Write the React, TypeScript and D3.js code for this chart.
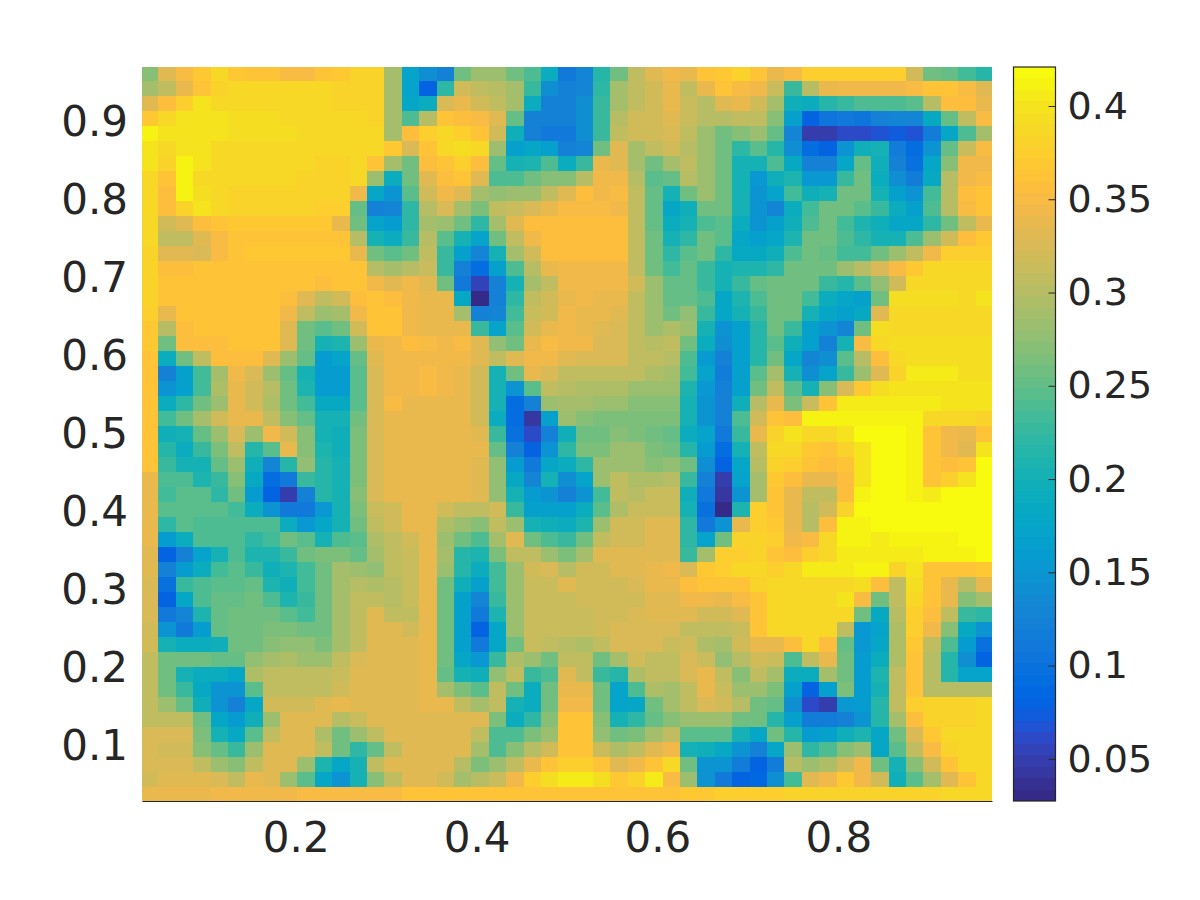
import React, { useEffect, useRef } from "react";
import * as d3 from "d3";

const width = 1200;
const height = 900;
const xTicks = [0.2, 0.4, 0.6, 0.8];
const yTicks = [0.1, 0.2, 0.3, 0.4, 0.5, 0.6, 0.7, 0.8, 0.9];
const barTicks = [0.05, 0.1, 0.15, 0.2, 0.25, 0.3, 0.35, 0.4];
const colorLimits = [0.0274, 0.4209];

// MATLAB parula, 64 levels
const parula = [
  [0.2081,0.1663,0.5292],[0.2116,0.1898,0.5777],[0.2123,0.2138,0.627],[0.2081,0.2386,0.6771],
  [0.1959,0.2645,0.7279],[0.1707,0.2919,0.7792],[0.1253,0.3242,0.8303],[0.0591,0.3598,0.8683],
  [0.0117,0.3875,0.882],[0.006,0.4086,0.8828],[0.0165,0.4266,0.8786],[0.0329,0.443,0.872],
  [0.0498,0.4586,0.8641],[0.0629,0.4737,0.8554],[0.0723,0.4887,0.8467],[0.0779,0.504,0.8384],
  [0.0793,0.52,0.8312],[0.0749,0.5375,0.8263],[0.0641,0.557,0.824],[0.0488,0.5772,0.8228],
  [0.0343,0.5966,0.8199],[0.0265,0.6137,0.8135],[0.0239,0.6287,0.8038],[0.0231,0.6418,0.7913],
  [0.0228,0.6535,0.7768],[0.0267,0.6642,0.7607],[0.0384,0.6743,0.7436],[0.059,0.6838,0.7254],
  [0.0843,0.6928,0.7062],[0.1133,0.7015,0.6859],[0.1453,0.7098,0.6646],[0.1801,0.7177,0.6424],
  [0.2178,0.725,0.6193],[0.2586,0.7317,0.5954],[0.3022,0.7376,0.5712],[0.3482,0.7424,0.5473],
  [0.3953,0.7459,0.5244],[0.442,0.7481,0.5033],[0.4871,0.7491,0.484],[0.53,0.7491,0.4661],
  [0.5709,0.7485,0.4494],[0.6099,0.7473,0.4337],[0.6473,0.7456,0.4188],[0.6834,0.7435,0.4044],
  [0.7184,0.7411,0.3905],[0.7525,0.7384,0.3768],[0.7858,0.7356,0.3633],[0.8185,0.7327,0.3498],
  [0.8507,0.7299,0.336],[0.8824,0.7274,0.3217],[0.9139,0.7258,0.3063],[0.945,0.7261,0.2886],
  [0.9739,0.7314,0.2666],[0.9938,0.7455,0.2403],[0.999,0.7653,0.2164],[0.9955,0.7861,0.1967],
  [0.988,0.8066,0.1794],[0.9789,0.8271,0.1633],[0.9697,0.8481,0.1475],[0.9626,0.8705,0.1309],
  [0.9589,0.8949,0.1132],[0.9598,0.9218,0.0948],[0.9661,0.9514,0.0755],[0.9763,0.9831,0.0538],
].map(([r, g, b]) => d3.rgb(r * 255, g * 255, b * 255).formatRgb());

// cell values x100, top row first, left column first
const heat = [
  [27,33,35,37,39,37,36,36,35,35,36,37,38,38,29,17,14,12,26,28,28,26,24,19,11,13,21.5,26,31,33,34.5,34,36.5,37,38,36,34,35,37.5,37.5,37.5,37.5,37.5,37.5,32,26,25,23.5,21.5],
  [29,31,34,36,38,39,39,39,39,39,38.5,38,38,38,29,17,8,22,32,30.5,30,29,23,14,12,13,22,29,31,32,34,31,33.5,36,35,34.5,31.5,23,30,33.5,34.5,34.5,34.5,34.5,35,36,36,35,33],
  [33,35.5,37.5,40,39,39,39,39,39,39,39,38,38,38,29,17.5,19,32.5,34,32,31,29,19,12,12,14,23,29,31,32,34,31.5,30,33,33.5,32,29,19.5,19,21.5,23,24,24,24,24.5,30,35.5,35.5,34],
  [37,38.5,40,40,40,39.5,39.5,39.5,39,39,39,39,39,38,29,24,30,36,35.5,35,33,25,12.5,12,12,14,23,30,32,32,33,31.5,30,30,31,31,27,16.5,8,10.5,11,10.5,12.5,13,13,18.5,25,31,35],
  [41,40,40,40,40,39.5,39.5,39.5,39.5,39,39,39,39,38.5,29,35.5,37.5,38.5,37.5,36.5,32,19.5,12,11,11,14,23,31,32,32,32.5,31,28,26,27,28,25,13,5,5,6,6,7,7.5,7,11.5,17.5,24,29],
  [40,38.5,40,40,39,39,39,39,39,39,39,39,39,38.5,37,32.5,36,39,39.5,39,28,16.5,17.5,16.5,12,13,26,33,29,31,32,30,28,26,22,24.5,21.5,14,9,8,15,19.5,20,11.5,9,15,25,31.5,35],
  [40,38,41,40,39,38.5,38.5,38.5,38.5,38.5,38,38,39,36.5,29,26,35.5,36,37.5,35.5,25,20,21,24,19,23,34,33,29,26,29,30.5,28,26,20,20,24,18.5,12,12,18,25,19.5,12.5,10,18,27,34.5,34.5],
  [39,36.5,41,39,39,38.5,38.5,38.5,38.5,38,38,38,38.5,28,19,25.5,33,35.5,36,33,24,24,25.5,27,27,30,34.5,34.5,30,24.5,25,30,28,26,20,15.5,19.5,21,15.5,15.5,23,25.5,19,14,11.5,18.5,30,34.5,35],
  [38.5,35.5,41,39.5,39,38,38,38,38,38,38,38,34.5,17.5,15,24.5,32,34.5,33,29,27.5,28,28,30.5,33,35.5,34.5,35,31,25,20,25.5,28,26,20,15,17,23.5,19.5,20,25.5,25.5,20.5,16.5,14.5,23.5,30,35.5,36],
  [38.5,35.5,38,40,39,38,38,38,38,38,37.5,37.5,25,12.5,13,22,30,32.5,29,26.5,31,31.5,32.5,34,35,35,35,34.5,31,25,18,19.5,26,25.5,20,14.5,13,19,23.5,25.5,25.5,24.5,23,19,16.5,24,30,35,36],
  [38.5,32,33,35.5,36,37,37,37,37,37,37,34,26,17,16,22,29,28,25.5,22,29,33,35.5,35.5,35.5,35.5,35.5,35.5,31,25,19,20.5,24,24.5,19,14.5,16.5,19.5,24,25.5,23.5,21,19.5,18,17.5,22,26,30.5,34],
  [38.5,30.5,30.5,33,35,36.5,36.5,36.5,36.5,36.5,36.5,36.5,30,20.5,19,23,30,24.5,20,17,26,31,34.5,35.5,35.5,35.5,35.5,35.5,31,25.5,20,22,25.5,24.5,17.5,16.5,17.5,21,26,25.5,24,22,20,20.5,24,28,32,35.5,37],
  [38,33,33,32.5,35,36.5,37,37,37,37,37,37,34,26,24.5,26,31,23,16.5,13,20.5,29,32,35.5,35.5,35.5,35.5,35.5,31,26,22,24.5,25.5,22,18.5,18.5,19.5,24,25.5,25,23.5,23.5,26,28,31,34.5,37.5,37.5,37.5],
  [38,35.5,35.5,36,36,36.5,36.5,36.5,36.5,36.5,36.5,36.5,36.5,30,29,30,31.5,22.5,12,9.5,16.5,24,30,33.5,34.5,34.5,34.5,34.5,31,26,23.5,25,23,20.5,21,21,22,26,26,25.5,28,30,32.5,35,37,38.5,38.5,38.5,38.5],
  [38,36,36,36,36.5,36.5,36.5,36.5,36.5,36.5,35.5,36,36,34.5,33,34.5,33,26,11,5.5,12,20.5,29,31,34.5,34.5,34.5,34.5,32,28,25,25,22.5,20,23,25,26,26,26,22.5,21.5,24.5,27.5,32,39,39,39,39,39],
  [38,36,36,36,36,36,36.5,36.5,35.5,33,31,32,35.5,36,35.5,34.5,34,34,18.5,3,12.5,22,31,32,34,34.5,33.5,33.5,31,28.5,25,25,24,17.5,21,24,26,26,23.5,19,17.5,16.5,26,39.5,39.5,39.5,39.5,39,40],
  [37.5,34,36,36,36,36,36,36,34.5,31,28,29,34.5,36,36,34.5,33.5,33.5,29,12.5,13,23.5,31.5,32,34.5,34,34,33,31,28,26,27.5,22.5,18,20,22.5,26,25.5,20,17.5,16.5,18.5,33,39,39,39,39,39,39],
  [37,30,35.5,36,36,36,36,36,33,26,24.5,25.5,32,36,36,34.5,33.5,33.5,34,23,17,24.5,32,34,34.5,34,33,32.5,31,28,29.5,28,20,15,16.5,21.5,25.5,23,16.5,14.5,13,26,39.5,39,39,39,39,39,39],
  [37,25.5,35.5,35.5,35.5,36,36,36,33,26,20,21,28,33.5,34.5,35.5,35,34.5,35,33,27.5,25.5,33.5,35,34.5,34.5,32.5,32.5,31,30,31,25.5,19,14,16.5,21.5,24.5,19.5,16.5,12.5,20,35,39,39.5,39.5,39.5,39.5,39.5,39.5],
  [36.5,19,25.5,31,35.5,35.5,35.5,33,28.5,25,16,17,25,33,34.5,34.5,34.5,34.5,34.5,33,30.5,33,34.5,34.5,33,32.5,32.5,32.5,31,31,30,24,16,12,16.5,21.5,26,17.5,13,14,24.5,30,35.5,39,39.5,39.5,39.5,39.5,39.5],
  [36.5,12,16.5,23.5,29,34.5,32.5,28.5,25,20,16,16,24.5,32.5,34.5,34.5,35,34.5,33.5,32,20.5,26,34,32.5,31,30.5,30.5,30.5,30.5,29.5,29,23.5,17,11.5,16.5,24.5,29,20.5,14,17,23,28,33,38,40.5,40.5,40.5,39.5,39.5],
  [36.5,14.5,16.5,23.5,29.5,34,32,30,26,21,16,16,24.5,32.5,34.5,34.5,35,34.5,34,32,20.5,15,24.5,31,30,29.5,29.5,29.5,28.5,28.5,28.5,21,15.5,12,16.5,26,31,24.5,20.5,27,32.5,37,39.5,40,40,40,40,40,40],
  [36,19,22,25.5,28,34,32,29.5,26,23.5,18.5,18.5,24.5,32.5,35,33.5,33.5,33.5,33.5,32,20.5,9.5,12.5,28,29,29,28,28,27,27,27,20,15,12,19.5,30,34,26.5,31.5,36.5,40.5,40.5,40.5,40.5,40.5,40.5,40,40,40],
  [36,23.5,26,29,32,33.5,33.5,31,27,25,20,20,26,32.5,34,33.5,33.5,33.5,33.5,32,19,9.5,4,16.5,28,27,26.5,26.5,26.5,26.5,26.5,20,15,12,24,32,36,35.5,41,41,41,41,41,41,41,39,39,39,38],
  [36,19.5,20.5,25,28,32.5,28,34.5,32,27,20.5,19.5,26.5,32.5,33.5,33.5,33.5,33.5,33.5,33,22.5,10,6,12,19.5,25.5,25.5,27,26.5,25.5,25,19,17,11,22.5,33.5,38,40,39,39,40,42,42,42,41,36.5,34.5,33.5,36.5],
  [36,21.5,19,22.5,26.5,30.5,21.5,24.5,33.5,27,21,19.5,26.5,32.5,33.5,33.5,33.5,33.5,33.5,33.5,25,12.5,8,15,22,26.5,26.5,28,28,26.5,26,21.5,16,9,20,31,39,39,37,36.5,38,40,42,42,41,36.5,34.5,33,40],
  [36,23,20.5,20,25,28.5,19.5,13,21.5,27.5,21.5,20.5,26.5,32.5,33.5,33.5,33.5,33.5,33.5,33,27.5,16,11,17.5,19,22,28,28,28.5,27,27.5,25.5,14,8,18,30,38,37.5,36,35.5,36,40,42,42,41,36.5,35.5,36.5,42],
  [34,24,24,21,23,27,18.5,9,11,23,21.5,20,26.5,32.5,33.5,33.5,33.5,33.5,33.5,33,27.5,18.5,13,20,14,17,28,30.5,29.5,29.5,30,23,12,5,17,29,37,35.5,33.5,33.5,35.5,40,42,42,41,36.5,37.5,40,42],
  [34,23.5,24.5,24.5,22,25.5,16,8,5,12,21.5,20,27,32.5,33.5,33.5,33.5,33.5,33.5,33,27.5,20.5,16,15,12.5,14.5,23.5,30.5,30,31.5,31.5,19.5,11,4,15,29,36.5,33.5,31,31,35.5,41,42,42,41,40.5,42,42,42],
  [33.5,24.5,24.5,24.5,24.5,23.5,19,15,11,11,15.5,20.5,26.5,31.5,32,33.5,33.5,32,31,31,32,23,16.5,16.5,16.5,19,24.5,29.5,31.5,31.5,31.5,20,10,3,21,37.5,36.5,33.5,30,32,38,41.5,41.5,41.5,41.5,42,42,42,42],
  [33.5,22,24.5,24,24,24,24,24,19,15.5,17.5,20.5,25.5,30.5,32,33.5,33.5,29.5,28.5,27,31,28,20,19.5,19,21,28,32,32,33,33,22,11,14.5,34,37.5,37,34,30,35.5,41,41,41.5,41.5,41.5,41.5,41.5,42,42],
  [33.5,16,19,24,24,24,22,23.5,26,24.5,20,24,24.5,29.5,31,32,33.5,28.5,26,24,29,33,26,24,23,25.5,31,32,32,33,33,22,17,26,38,38,37.5,34.5,35,39,41,41,40.5,41,41,41,41,42,42],
  [33,8,12.5,17,20,24,21,21,23,25.5,26.5,26.5,25,29,31,31.5,33.5,29,21.5,21,26.5,30.5,31,28,26.5,29,33,33,33,33,33,23,29,37.5,37.5,38,36.5,35.5,37.5,39,40.5,40.5,40.5,40.5,40.5,41,41,41,42],
  [33,12.5,16,19,23.5,24.5,23,19.5,21,23.5,26,29,28,27.5,30.5,31.5,33.5,28,21.5,19,23.5,28,32,32.5,30,32,32,33,33,33.5,34.5,32.5,37,37.5,39,39,37.5,39,40.5,40.5,40.5,41,41,38,40,36.5,36.5,36.5,37],
  [32.5,10,23,24,24.5,24.5,25,21,19.5,23.5,26,29,30,29.5,30,31.5,33.5,26,19.5,16.5,23.5,28,31.5,31.5,33,32,32,32,32.5,33.5,33.5,35.5,36.5,36,36.5,38,39,39,39,39,39,39.5,35.5,31,39.5,36,33.5,30,34],
  [32.5,8,18,24,25,25,25.5,24,21,23,26,29,30.5,30.5,30,31.5,33.5,26,16.5,13,23,28,31.5,31.5,31.5,32,32,32,32,33,33,34.5,34.5,33.5,35,36.5,39,39,39,39,40,35,26,31,38.5,36,33.5,27,29],
  [32.5,11,13,21,25,25.5,25.5,26,24.5,23.5,26,29,30.5,33,31,31,33.5,26,16.5,11,21,28,31.5,31.5,31.5,31.5,32,32,32.5,33,33,33,32,32,33,36,39,39,39,39,39,26,18.5,30,37.5,35.5,31,23,22],
  [32,15,11,16,25,25.5,26,26.5,26.5,25.5,26,29,30.5,33,33,32,33.5,26,16.5,8,17.5,28,31.5,31.5,31.5,31.5,32,32.5,32.5,32.5,32.5,31,30.5,30.5,31.5,36,39,39,39,39,31,15.5,17,29.5,37.5,34.5,27,18.5,15],
  [32,20,19,19,19.5,25.5,26,27,27.5,27.5,26.5,29,30.5,33,33,33,33.5,25.5,16.5,11,17.5,25.5,31.5,30.5,30,29.5,30.5,32.5,32.5,32.5,31.5,32,29.5,29,32,34,34,35.5,38.5,35.5,25,15.5,17.5,29.5,37,30.5,24,16,10],
  [31,26,26,26,25,25,27.5,29,29.5,28.5,28.5,31,32.5,33,33,33,33.5,25.5,17.5,15.5,22.5,29.5,28.5,26,31,30.5,25.5,29,32,30.5,30.5,32.5,31.5,27.5,30,32,31.5,24,30.5,34,25.5,16,19,29.5,36.5,30,21.5,14,8],
  [31,25.5,20,19,19,18,29.5,30.5,30.5,30.5,31,31.5,33,33,33,33,33.5,25,20,19.5,27.5,30.5,23,24,33,31,23,21.5,29.5,30.5,30.5,32.5,34,30.5,27,30.5,29,19,19,29,25.5,16,21,30.5,36.5,30,21.5,17,17],
  [30.5,26,23,18.5,14.5,14.5,24.5,30.5,31,31,31,32,33,33,33,33,33.5,29,26.5,24.5,31,26,19,26,33.5,33.5,25.5,17,24,29.5,29,30.5,33.5,31.5,28,28,26.5,16.5,8,16.5,26.5,16,20.5,30.5,36.5,30,30,30,30],
  [30.5,28,25,19.5,15,12,18,32,32,32,33,34,33,33,33,33,33.5,33.5,30.5,29,30.5,20.5,19,26,34.5,34.5,26,17,18,25.5,29,30.5,32.5,32,30,26,25,14,6,5,15.5,16,21.5,30.5,37.5,38,38,38,39],
  [31,31,30.5,26,18,16,19.5,28,33,33,33,30,31.5,33,33,33,33,33,33,33,26.5,19,22,27,36,36,27,20,22,25,27,28,28,28,25.5,26,21.5,16.5,11.5,11.5,12.5,15,21.5,29,35.5,38,38,38,39],
  [32.5,32.5,32.5,26.5,20,18.5,24.5,30.5,33,33,29.5,26,28,30.5,33,33,33,33,33,31,24,24,26.5,28.5,36,36,27.5,26,26.5,29,30.5,24.5,24.5,24.5,20,18,25.5,21.5,16,16.5,19.5,21,18,26,32.5,37,39,39,39],
  [32.5,32,32,27,25,23,28,33,33,33,30.5,26,22,25,30.5,33,33,33,33,29,24,27,30,32,36.5,36,31.5,29.5,30.5,33,34.5,20,19.5,18.5,15,12,17.5,28,22,24,27,28,18,24.5,30.5,35,38,39,39],
  [32.5,32.5,32.5,31,28,27,30.5,33,33,28,21,18,20,30.5,33,33,33,33,30,26.5,28,30.5,34,36,37.5,37.5,36,33,34.5,36.5,38.5,25.5,15,15,11.5,8,11.5,30,28,29.5,32,34.5,26,20,27,32,36.5,39,39],
  [32,33,33,33,32.5,30.5,34,33,28.5,24.5,18,15,20,27,30.5,33,33,32,29,30,31.5,34.5,37.5,39.5,40.5,40.5,39.5,37,38,40.5,35,28,14.5,11,8,8.5,14,23.5,33,34.5,37,34.5,32,19.5,24.5,29,33,36,38.5],
  [33.5,33.5,33.5,33.5,34.5,34.5,34.5,34.5,34.5,35,35,35,35,35,35,36,36,36,36,36,36,36,36,36,36,36,36.5,36.5,36.5,36.5,36.5,37,37,37.5,37.5,37.5,37.5,38,38,38,38,38,38,38,38,38,38.5,38.5,38.5],
];

const plot = { left: 142, right: 992, top: 67, bottom: 801 };
const bar = { left: 1013.5, right: 1055.5 };
const inkColor = "#262626";
const axisFontSize = 42;
const barFontSize = 38;

export default function App() {
  const svgRef = useRef<SVGSVGElement>(null);

  useEffect(() => {
    const svg = d3.select(svgRef.current);
    svg.selectAll("*").remove();

    const x = d3.scaleLinear().domain([0.03, 0.97]).range([plot.left, plot.right]);
    const y = d3.scaleLinear().domain([0.03, 0.97]).range([plot.bottom, plot.top]);
    const color = d3.scaleQuantize<string>().domain(colorLimits).range(parula);
    const barY = d3.scaleLinear().domain(colorLimits).range([plot.bottom, plot.top]);

    // Cell edges sit on a 1/52 grid centred on 0.5, clipped to the axes.
    const edge = (i: number) => Math.min(0.97, Math.max(0.03, 0.5 + (i - 24.5) / 52));
    const cells = heat.flatMap((row, r) => row.map((v, c) => ({ r, c, v: v / 100 })));

    svg.append("g")
      .attr("shape-rendering", "crispEdges")
      .selectAll("rect")
      .data(cells)
      .join("rect")
      .attr("x", (d) => Math.round(x(edge(d.c))))
      .attr("y", (d) => Math.round(y(edge(49 - d.r))))
      .attr("width", (d) => Math.round(x(edge(d.c + 1))) - Math.round(x(edge(d.c))))
      .attr("height", (d) => Math.round(y(edge(48 - d.r))) - Math.round(y(edge(49 - d.r))))
      .attr("fill", (d) => color(d.v));

    // Axes: labels only, the image covers the inward ticks.
    svg.append("g")
      .attr("transform", `translate(0,${plot.bottom})`)
      .call(d3.axisBottom(x).tickValues(xTicks).tickSize(0).tickPadding(21).tickFormat(d3.format(".1f")))
      .call((g) => g.select(".domain").attr("stroke", inkColor).attr("stroke-width", 1.2))
      .call((g) => g.selectAll("text").attr("font-size", axisFontSize).attr("fill", inkColor).attr("font-family", "DejaVu Sans"));

    svg.append("g")
      .attr("transform", `translate(${plot.left},0)`)
      .call(d3.axisLeft(y).tickValues(yTicks).tickSize(0).tickPadding(14).tickFormat(d3.format(".1f")))
      .call((g) => g.select(".domain").remove())
      .call((g) => g.selectAll("text").attr("font-size", axisFontSize).attr("fill", inkColor).attr("font-family", "DejaVu Sans"));

    // Colorbar: one band per colormap level.
    const levels = d3.range(parula.length);
    const levelY = (i: number) => barY(colorLimits[0] + (i / parula.length) * (colorLimits[1] - colorLimits[0]));
    svg.append("g")
      .attr("shape-rendering", "crispEdges")
      .selectAll("rect")
      .data(levels)
      .join("rect")
      .attr("x", bar.left)
      .attr("width", bar.right - bar.left)
      .attr("y", (i) => Math.round(levelY(i + 1)))
      .attr("height", (i) => Math.round(levelY(i)) - Math.round(levelY(i + 1)))
      .attr("fill", (i) => parula[i]);

    svg.append("rect")
      .attr("x", bar.left)
      .attr("y", plot.top)
      .attr("width", bar.right - bar.left)
      .attr("height", plot.bottom - plot.top)
      .attr("fill", "none")
      .attr("stroke", inkColor)
      .attr("stroke-width", 1.2);

    svg.append("g")
      .attr("transform", `translate(${bar.right},0)`)
      .call(d3.axisLeft(barY).tickValues(barTicks).tickSize(7).tickFormat(() => ""))
      .call((g) => g.select(".domain").remove())
      .call((g) => g.selectAll("line").attr("stroke", inkColor));

    svg.append("g")
      .attr("transform", `translate(${bar.right},0)`)
      .call(d3.axisRight(barY).tickValues(barTicks).tickSize(0).tickPadding(12).tickFormat((d) => String(d)))
      .call((g) => g.select(".domain").remove())
      .call((g) => g.selectAll("text").attr("font-size", barFontSize).attr("fill", inkColor).attr("font-family", "DejaVu Sans"));
  }, []);

  return (
    <svg
      ref={svgRef}
      width={width}
      height={height}
      viewBox={`0 0 ${width} ${height}`}
      style={{ position: "absolute", left: 0, top: 0, background: "#fff" }}
    />
  );
}
